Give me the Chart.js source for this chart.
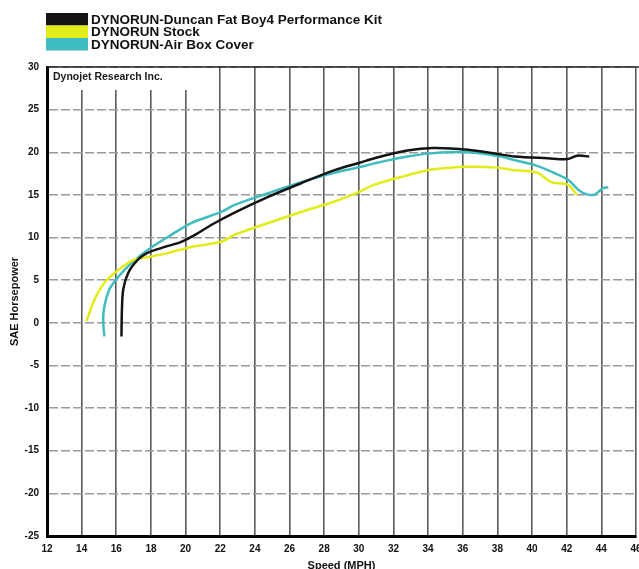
<!DOCTYPE html>
<html>
<head>
<meta charset="utf-8">
<script src="https://cdn.jsdelivr.net/npm/chart.js@4.4.1/dist/chart.umd.min.js"></script>
<style>
  html, body { margin: 0; padding: 0; background: #fff; overflow: hidden; }
  #wrap { width: 660px; height: 575px; }
</style>
</head>
<body>
<div id="wrap"><canvas id="dyno" width="660" height="575"></canvas></div>
<script>
// run names, as printed in the legend
const runNames = [
  'DYNORUN-Duncan Fat Boy4 Performance Kit',
  'DYNORUN Stock',
  'DYNORUN-Air Box Cover',
];
const runColors = ['#141414', '#e2ec18', '#3fbcc0'];

// speed (MPH) / SAE horsepower
const perfKitMph = [16.3, 16.32, 16.4, 16.7, 17.25, 17.8, 18.8, 19.75, 20.7, 21.5, 22.8, 24.8, 26.7, 28.6, 30.1, 30.9, 32.8, 34.3, 36.3, 38.0, 39.0, 40.9, 42.05, 42.6, 43.3];
const perfKitHp  = [-1.6, 1.2, 3.9, 5.9, 7.4, 8.2, 8.9, 9.5, 10.5, 11.5, 12.9, 14.8, 16.4, 17.9, 18.8, 19.3, 20.2, 20.5, 20.3, 19.8, 19.5, 19.3, 19.2, 19.6, 19.5];

const stockMph = [14.28, 14.74, 15.31, 16.12, 17.04, 17.85, 19.0, 20.33, 22.06, 22.8, 24.77, 26.67, 28.57, 29.95, 30.9, 32.8, 34.3, 36.3, 38.0, 38.95, 40.3, 41.1, 42.06, 42.6];
const stockHp  = [0.2, 2.7, 4.7, 6.2, 7.4, 7.7, 8.2, 8.9, 9.5, 10.3, 11.7, 13.0, 14.2, 15.3, 16.2, 17.3, 18.0, 18.3, 18.2, 17.9, 17.6, 16.5, 16.2, 15.0];

const airBoxMph = [15.31, 15.24, 15.31, 15.6, 16.12, 16.87, 17.85, 19.0, 20.33, 22.06, 22.8, 24.77, 26.67, 28.57, 30.13, 30.9, 32.8, 34.3, 36.3, 38.2, 38.95, 40.3, 41.25, 42.06, 42.8, 43.55, 44.1, 44.4];
const airBoxHp  = [-1.6, 0.35, 1.9, 3.9, 5.4, 7.0, 8.6, 10.1, 11.7, 13.0, 13.8, 15.2, 16.5, 17.6, 18.3, 18.7, 19.5, 19.9, 20.0, 19.5, 19.1, 18.4, 17.6, 16.8, 15.4, 15.0, 15.8, 15.9];

const speedTicks = [12, 14, 16, 18, 20, 22, 24, 26, 28, 30, 32, 34, 36, 38, 40, 42, 44, 46];
const hpTicks = [30, 25, 20, 15, 10, 5, 0, -5, -10, -15, -20, -25];

const toPoints = (xs, ys) => xs.map((x, i) => ({ x: x, y: ys[i] }));

const FONT = '"Liberation Sans", Arial, sans-serif';

// white page, legend block, lab name and top frame line
const scanDecor = {
  id: 'scanDecor',
  beforeDraw(chart) {
    const ctx = chart.ctx;
    ctx.save();
    ctx.fillStyle = '#fff';
    ctx.fillRect(0, 0, chart.width, chart.height);
    ctx.restore();
  },
  beforeDatasetsDraw(chart) {
    const { ctx, chartArea } = chart;
    ctx.save();
    // label box at top-left of the plot covers the grid
    ctx.fillStyle = '#fff';
    ctx.fillRect(chartArea.left + 2, chartArea.top + 1, 168, 22);
    ctx.fillStyle = '#1a1a1a';
    ctx.font = 'bold 10.5px ' + FONT;
    ctx.textBaseline = 'middle';
    ctx.fillText('Dynojet Research Inc.', chartArea.left + 6, chartArea.top + 10);
    // top frame
    ctx.strokeStyle = '#222';
    ctx.lineWidth = 1.5;
    ctx.beginPath();
    ctx.moveTo(chartArea.left, chartArea.top);
    ctx.lineTo(chart.width, chartArea.top);
    ctx.stroke();
    ctx.restore();
  },
  afterDraw(chart) {
    const ctx = chart.ctx;
    ctx.save();
    ctx.font = 'bold 13.5px ' + FONT;
    ctx.textBaseline = 'middle';
    runNames.forEach((name, i) => {
      const y = 13 + i * 12.5;
      ctx.fillStyle = runColors[i];
      ctx.fillRect(46, y, 42, 12.5);
      ctx.fillStyle = '#111';
      ctx.fillText(name, 91, y + 7);
    });
    ctx.restore();
  },
};

const datasets = [
  toPoints(perfKitMph, perfKitHp),
  toPoints(stockMph, stockHp),
  toPoints(airBoxMph, airBoxHp),
].map((pts, i) => ({
  label: runNames[i],
  data: pts,
  borderColor: runColors[i],
  backgroundColor: runColors[i],
  borderWidth: 2.5,
  pointRadius: 0,
  tension: 0.3,
  fill: false,
}));

new Chart(document.getElementById('dyno'), {
  type: 'line',
  data: { datasets: datasets },
  options: {
    responsive: false,
    animation: false,
    layout: { padding: { left: 4, top: 67, right: 24, bottom: 0 } },
    plugins: {
      legend: { display: false },
      tooltip: { enabled: false },
    },
    scales: {
      x: {
        type: 'linear',
        min: 12,
        max: 46,
        afterBuildTicks: (scale) => { scale.ticks = speedTicks.map(v => ({ value: v })); },
        afterFit: (scale) => { scale.height = 39; },
        ticks: {
          padding: 7,
          color: '#111',
          font: { family: FONT, size: 10, weight: 'bold' },
        },
        grid: {
          color: '#5a5a5a',
          lineWidth: 1.6,
          drawTicks: false,
        },
        border: { color: '#000', width: 3 },
        title: {
          display: true,
          text: 'Speed (MPH)',
          color: '#111',
          font: { family: FONT, size: 11, weight: 'bold' },
          padding: { top: 0, bottom: 2 },
        },
      },
      y: {
        min: -25,
        max: 30,
        afterBuildTicks: (scale) => { scale.ticks = hpTicks.map(v => ({ value: v })); },
        afterFit: (scale) => { scale.width = 43; },
        ticks: {
          padding: 8,
          color: '#111',
          font: { family: FONT, size: 10, weight: 'bold' },
        },
        grid: {
          color: '#9a9a9a',
          lineWidth: 1.4,
          drawTicks: false,
        },
        border: { color: '#000', width: 3, dash: [9, 3] },
        title: {
          display: true,
          text: 'SAE Horsepower',
          color: '#111',
          font: { family: FONT, size: 11, weight: 'bold' },
          padding: { top: 4, bottom: 0 },
        },
      },
    },
  },
  plugins: [scanDecor],
});
</script>
</body>
</html>
